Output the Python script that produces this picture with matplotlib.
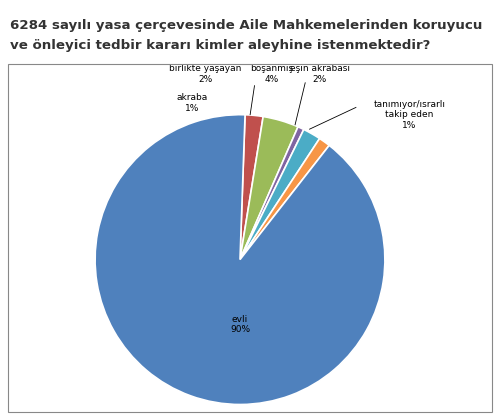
import matplotlib.pyplot as plt

labels = ["birlikte yaşayan", "boşanmış eş", "akraba", "eşin akrabası", "tanımıyor/ısrarlı\ntakip eden", "evli"]
values = [2, 4, 0.7, 2, 1.3, 90]
pcts = ["2%", "4%", "1%", "2%", "1%", "90%"]
colors = ["#C0504D", "#9BBB59", "#8064A2", "#4BACC6", "#F79646", "#4F81BD"]

fig = plt.figure(figsize=(5, 4.17), dpi=100)
fig.text(0.02, 0.955, "6284 sayılı yasa çerçevesinde Aile Mahkemelerinden koruyucu\nve önleyici tedbir kararı kimler aleyhine istenmektedir?",
         fontsize=9.6, fontweight="bold", color="#333333", va="top", linespacing=1.7)
frame = plt.Rectangle((0.016, 0.012), 0.968, 0.835, transform=fig.transFigure,
                      fill=False, edgecolor="#888888", lw=0.8)
fig.patches.append(frame)

ax = fig.add_axes([0.19, 0.03, 0.58, 0.695])
ax.pie(values, colors=colors, startangle=88, counterclock=False,
       wedgeprops=dict(edgecolor="white", linewidth=1.2))
ax.set_aspect("equal")
ax.set_xlim(-1, 1)
ax.set_ylim(-1, 1)

fs = 6.5
ax.text(0.0, -0.45, "evli\n90%", ha="center", va="center", fontsize=fs)
ax.text(-0.33, 1.08, "akraba\n1%", ha="center", va="center", fontsize=fs)
ax.text(-0.24, 1.28, "birlikte yaşayan\n2%", ha="center", va="center", fontsize=fs)
ax.text(0.22, 1.28, "boşanmış\n4%", ha="center", va="center", fontsize=fs)
ax.text(0.55, 1.28, "eşin akrabası\n2%", ha="center", va="center", fontsize=fs)
ax.text(1.17, 1.0, "tanımıyor/ısrarlı\ntakip eden\n1%", ha="center", va="center", fontsize=fs)
for (x0, y0, x1, y1) in [(0.07, 1.0, 0.1, 1.2), (0.38, 0.93, 0.45, 1.22), (0.48, 0.9, 0.8, 1.05)]:
    ax.plot([x0, x1], [y0, y1], color="black", lw=0.6, clip_on=False)

fig.savefig("out.png", dpi=100)
